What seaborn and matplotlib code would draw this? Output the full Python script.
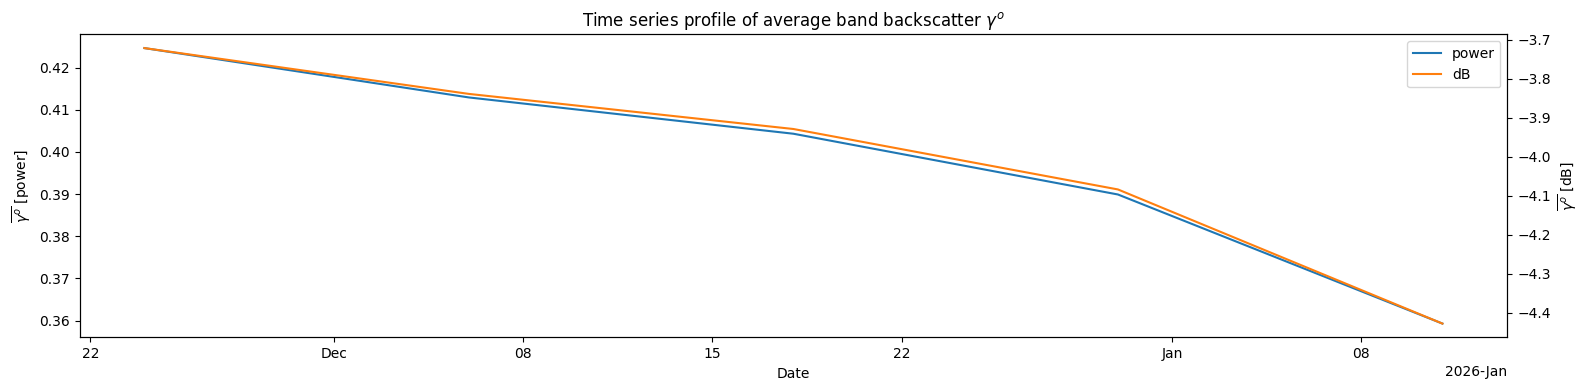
import matplotlib
matplotlib.use("Agg")
import matplotlib.pyplot as plt
import matplotlib.dates as mdates
import seaborn as sns
import pandas as pd

dates = ["2025-11-24", "2025-12-06", "2025-12-18", "2025-12-30", "2026-01-11"]
power_values = [0.4246, 0.4129, 0.4043, 0.3899, 0.3593]
db_values = [-3.7215, -3.839, -3.929, -4.084, -4.428]

df = pd.DataFrame({"Date": pd.to_datetime(dates), "power": power_values, "dB": db_values})

fig, ax = plt.subplots(figsize=(15.9, 3.9), dpi=100)
ax2 = ax.twinx()

sns.lineplot(data=df, x="Date", y="power", ax=ax, color="tab:blue", label="power", legend=False)
sns.lineplot(data=df, x="Date", y="dB", ax=ax2, color="tab:orange", label="dB", legend=False)

locator = mdates.AutoDateLocator()
ax.xaxis.set_major_locator(locator)
ax.xaxis.set_major_formatter(mdates.ConciseDateFormatter(locator))

ax.set_xlabel("Date")
ax.set_ylabel(r"$\overline{\gamma^o}$ [power]")
ax2.set_ylabel(r"$\overline{\gamma^o}$ [dB]")
ax.set_title(r"Time series profile of average band backscatter $\gamma^o$")

h1, l1 = ax.get_legend_handles_labels()
h2, l2 = ax2.get_legend_handles_labels()
ax2.legend(h1 + h2, l1 + l2, loc="upper right")

fig.subplots_adjust(left=0.05, right=0.948, top=0.912, bottom=0.135)
fig.savefig("out.png", dpi=100)
